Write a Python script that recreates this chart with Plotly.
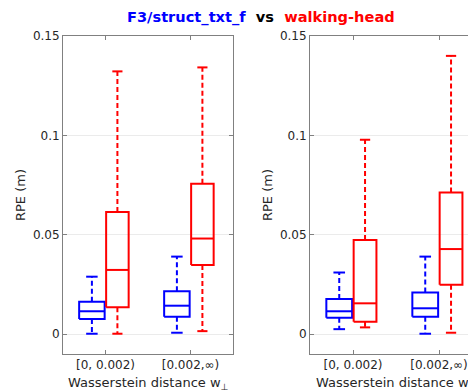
import plotly.graph_objects as go

cats = ["[0, 0.002)", "[0.002,∞)"]
cat_pos = [1, 2]

# Left panel
L_blue_low = [0.0002, 0.0007]
L_blue_q1 = [0.0076, 0.0088]
L_blue_med = [0.0115, 0.0143]
L_blue_q3 = [0.0163, 0.0216]
L_blue_up = [0.0289, 0.0390]

L_red_low = [0.0002, 0.0015]
L_red_q1 = [0.0135, 0.0348]
L_red_med = [0.0323, 0.0481]
L_red_q3 = [0.0615, 0.0756]
L_red_up = [0.1322, 0.1342]

# Right panel
R_blue_low = [0.0025, 0.0002]
R_blue_q1 = [0.0082, 0.0088]
R_blue_med = [0.0115, 0.0130]
R_blue_q3 = [0.0177, 0.0209]
R_blue_up = [0.0310, 0.0390]

R_red_low = [0.0034, 0.0007]
R_red_q1 = [0.0062, 0.0249]
R_red_med = [0.0155, 0.0428]
R_red_q3 = [0.0473, 0.0713]
R_red_up = [0.0978, 0.1400]

yticks = [0, 0.05, 0.1, 0.15]
ytick_text = ["0", "0.05", "0.1", "0.15"]

BLUE = "#0000FF"
RED = "#FF0000"

fig = go.Figure()


def add_boxes(xa, ya, low, q1, med, q3, up, offset, width, color):
    bx, by, mx, my, wx, wy, cx, cy = [], [], [], [], [], [], [], []
    for i, c in enumerate(cat_pos):
        xc = c + offset
        x0, x1 = xc - width / 2, xc + width / 2
        bx += [x0, x1, x1, x0, x0, None]
        by += [q1[i], q1[i], q3[i], q3[i], q1[i], None]
        mx += [x0, x1, None]
        my += [med[i], med[i], None]
        wx += [xc, xc, None, xc, xc, None]
        wy += [q3[i], up[i], None, q1[i], low[i], None]
        cw = width * 0.45
        cx += [xc - cw / 2, xc + cw / 2, None, xc - cw / 2, xc + cw / 2, None]
        cy += [up[i], up[i], None, low[i], low[i], None]
    common = dict(xaxis=xa, yaxis=ya, mode="lines", showlegend=False, hoverinfo="skip")
    fig.add_trace(go.Scatter(x=wx, y=wy, line=dict(color=color, width=2, dash="5px,3px"), **common))
    fig.add_trace(go.Scatter(x=cx, y=cy, line=dict(color=color, width=2), **common))
    fig.add_trace(go.Scatter(x=bx, y=by, line=dict(color=color, width=2), **common))
    fig.add_trace(go.Scatter(x=mx, y=my, line=dict(color=color, width=2), **common))


BW, RW = 0.30, 0.265
BO, RO = -0.16, 0.14
add_boxes("x", "y", L_blue_low, L_blue_q1, L_blue_med, L_blue_q3, L_blue_up, BO, BW, BLUE)
add_boxes("x", "y", L_red_low, L_red_q1, L_red_med, L_red_q3, L_red_up, RO, RW, RED)
add_boxes("x2", "y2", R_blue_low, R_blue_q1, R_blue_med, R_blue_q3, R_blue_up, BO, BW, BLUE)
add_boxes("x2", "y2", R_red_low, R_red_q1, R_red_med, R_red_q3, R_red_up, RO, RW, RED)

W, H = 468, 391
AX = "#808080"
TXT = "#262626"
FONT = "DejaVu Sans"

xcommon = dict(tickvals=cat_pos, ticktext=cats, ticks="inside", ticklen=4, tickcolor=AX,
               showline=True, linecolor=AX, linewidth=1, mirror="ticks",
               showgrid=False, zeroline=False,
               tickfont=dict(family=FONT, size=12, color=TXT))
ycommon = dict(range=[-0.01, 0.15], tickvals=yticks, ticktext=ytick_text, ticks="inside",
               ticklen=4, tickcolor=AX, showline=True, linecolor=AX, linewidth=1,
               showgrid=True, gridcolor="#ebebeb", gridwidth=1, zeroline=False,
               tickfont=dict(family=FONT, size=12, color=TXT))

L0, L1 = 63 / W, 233 / W
R0 = 310 / W
R1 = 1.0
rmax = 0.5 + (W - 310) / 86.0

fig.update_layout(
    width=W, height=H,
    margin=dict(l=0, r=0, t=36, b=37),
    paper_bgcolor="white", plot_bgcolor="white",
    font=dict(family=FONT, color=TXT),
    xaxis=dict(domain=[L0, L1], range=[0.5, 2.5], anchor="y", **xcommon),
    yaxis=dict(domain=[0, 1], anchor="x", mirror="ticks", **ycommon),
    xaxis2=dict(domain=[R0, R1], range=[0.5, rmax], anchor="y2", **xcommon),
    yaxis2=dict(domain=[0, 1], anchor="x2", mirror=False, **ycommon),
)

ph = H - 36 - 37
ann = []
ann.append(dict(
    text="<b><span style='color:#0000FF'>F3/struct_txt_f</span>  vs  <span style='color:#FF0000'>walking-head</span></b>",
    xref="paper", yref="paper", x=261 / W, y=1 + (36 - 17) / ph,
    xanchor="center", yanchor="middle", showarrow=False,
    font=dict(family=FONT, size=14.6, color="black")))
for xc in [148 / W, 396 / W]:
    ann.append(dict(text="Wasserstein distance w<sub>⊥</sub>", xref="paper", yref="paper",
                    x=xc, y=-(383 - 354) / ph, xanchor="center", yanchor="middle",
                    showarrow=False, font=dict(family=FONT, size=13, color=TXT)))
for xc in [20 / W, 267 / W]:
    ann.append(dict(text="RPE (m)", xref="paper", yref="paper", x=xc, y=0.5,
                    xanchor="center", yanchor="middle", textangle=-90, showarrow=False,
                    font=dict(family=FONT, size=13, color=TXT)))
fig.update_layout(annotations=ann)

fig.write_html("out.html")
